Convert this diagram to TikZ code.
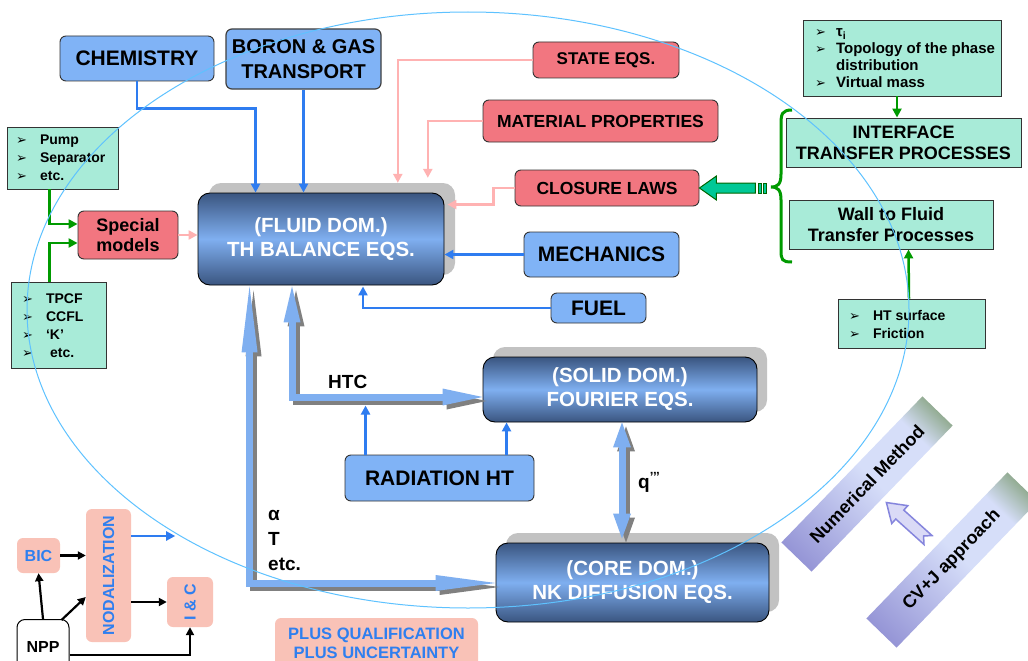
\documentclass[tikz,border=0pt]{standalone}
\usepackage{fontspec}
\setmainfont{Liberation Sans}
\newfontfamily\symfont{DejaVu Sans}
\usetikzlibrary{arrows.meta,calc}

% palette
\definecolor{boxblue}{HTML}{80B3F6}
\definecolor{lineblue}{HTML}{2E7CF0}
\definecolor{boxred}{HTML}{F27680}
\definecolor{linepink}{HTML}{FFB2B2}
\definecolor{mint}{HTML}{A8EBD8}
\definecolor{grn}{HTML}{009A00}
\definecolor{peach}{HTML}{F9C2B7}
\definecolor{txtblue}{HTML}{2F7FEF}
\definecolor{pipe}{HTML}{7FAFF0}
\definecolor{domdark}{HTML}{3A5580}
\definecolor{sky}{HTML}{5EC2FF}
\definecolor{shadowgray}{HTML}{C2C2C2}
\definecolor{arrowteal}{HTML}{00C896}
\definecolor{banA}{HTML}{9595D6}
\definecolor{banB}{HTML}{D6DEF9}
\definecolor{banC}{HTML}{93AC93}
\definecolor{lav}{HTML}{DADAF6}
\definecolor{lavdark}{HTML}{8585DD}

\pgfdeclarehorizontalshading{bannershade}{100bp}{color(0bp)=(banA); color(25bp)=(banA); color(52bp)=(banB); color(67bp)=(banB); color(75bp)=(banC); color(100bp)=(banC)}

% list bullet
\newcommand\lstbullet{{\symfont\fontsize{13}{13}\selectfont ➢}}

\tikzset{
  base/.style={inner sep=0pt, font=\bfseries, align=center},
  bluebox/.style={base, draw=black!80, line width=0.9pt, fill=boxblue, rounded corners=6pt},
  redbox/.style={base, draw=black!80, line width=0.9pt, fill=boxred, rounded corners=6pt},
  mintbox/.style={base, draw=black!80, line width=0.9pt, fill=mint},
  peachbox/.style={base, fill=peach, rounded corners=6pt, text=txtblue},
  dombox/.style={base, draw=black, line width=0.9pt, rounded corners=12pt,
    top color=domdark, bottom color=domdark, middle color=pipe, text=white},
  domshadow/.style={fill=shadowgray, rounded corners=12pt, inner sep=0pt},
  listtext/.style={inner sep=0pt, anchor=west, align=left},
  lbl/.style={inner sep=0pt, font=\bfseries\fontsize{19}{22}\selectfont},
  bl/.style={draw=lineblue, line width=2.5pt, -{Triangle[length=9pt,width=9pt]}},
  pk/.style={draw=linepink, line width=2.5pt, -{Triangle[length=9pt,width=9pt]}},
  gr/.style={draw=grn, line width=2.5pt, -{Triangle[length=9pt,width=9pt]}},
  bk/.style={draw=black, line width=2.2pt, -{Triangle[length=8pt,width=8pt]}},
  pipeline/.style={draw=pipe, line width=7pt},
  pipeshadow/.style={draw=black!50, line width=7pt},
}
\newcommand\dfont{\bfseries\fontsize{20.5}{24}\selectfont}

\begin{document}
\begin{tikzpicture}[x=1pt,y=-1pt]
\clip (0,0) rectangle (1028,661);
\fill[white] (0,0) rectangle (1028,661);

% ---------- upper inputs ----------
\node[bluebox, minimum width=154pt, minimum height=45pt, font=\bfseries\fontsize{21}{24}\selectfont] (chem) at (137,58.5) {CHEMISTRY};
\node[bluebox, draw=black!75, line width=1.2pt, minimum width=155pt, minimum height=60pt, font=\bfseries\fontsize{20}{25}\selectfont] (boron) at (303.5,59) {BORON \& GAS\\TRANSPORT};

\node[redbox, minimum width=146pt, minimum height=36pt, font=\bfseries\fontsize{17}{20}\selectfont] (state) at (606,60) {STATE EQS.};
\node[redbox, minimum width=235pt, minimum height=42pt, font=\bfseries\fontsize{17.5}{20}\selectfont] (mat) at (600.5,121) {MATERIAL PROPERTIES};
\node[redbox, minimum width=184pt, minimum height=36pt, font=\bfseries\fontsize{17.5}{20}\selectfont] (clos) at (607,188) {CLOSURE LAWS};
\node[bluebox, minimum width=155pt, minimum height=45pt, font=\bfseries\fontsize{21}{24}\selectfont] (mech) at (601.5,254.5) {MECHANICS};
\node[bluebox, minimum width=95pt, minimum height=30pt, font=\bfseries\fontsize{21}{24}\selectfont] (fuel) at (598.5,308) {FUEL};

% ---------- domain boxes ----------
\node[domshadow, minimum width=246pt, minimum height=92pt] (fsh) at (332,229) {};
\node[dombox, minimum width=246pt, minimum height=92pt, font=\dfont] (fluid) at (321,239) {(FLUID DOM.)\\TH BALANCE EQS.};
\node[domshadow, minimum width=274pt, minimum height=65pt] (ssh) at (630,379.5) {};
\node[dombox, minimum width=274pt, minimum height=65pt, font=\dfont] (solid) at (620,389.5) {(SOLID DOM.)\\FOURIER EQS.};
\node[domshadow, minimum width=273pt, minimum height=79pt] (csh) at (642.5,572.5) {};
\node[dombox, minimum width=273pt, minimum height=79pt, font=\dfont] (core) at (632.5,582.5) {(CORE DOM.)\\NK DIFFUSION EQS.};

\node[bluebox, minimum width=189pt, minimum height=46pt, font=\bfseries\fontsize{21}{24}\selectfont] (rad) at (439.5,478) {RADIATION HT};

% ---------- special models ----------
\node[redbox, minimum width=100pt, minimum height=48pt, font=\bfseries\fontsize{18}{20}\selectfont] (special) at (128,235) {Special\\models};
\node[mintbox, minimum width=111pt, minimum height=62pt] (pump) at (62.5,158) {};
\node[listtext, font=\bfseries\fontsize{14}{18}\selectfont] (pumptx) at (16,158)
  {\lstbullet\hspace{13pt}Pump\\\lstbullet\hspace{13pt}Separator\\\lstbullet\hspace{13pt}etc.};
\node[mintbox, minimum width=95pt, minimum height=86pt] (tpcf) at (58.5,325) {};
\node[listtext, font=\bfseries\fontsize{14}{18}\selectfont] (tpcftx) at (22,326)
  {\lstbullet\hspace{13pt}TPCF\\\lstbullet\hspace{13pt}CCFL\\\lstbullet\hspace{13pt}‘K’\\\lstbullet\hspace{17pt}etc.};

% ---------- transfer processes ----------
\node[mintbox, minimum width=198pt, minimum height=76pt] (topl) at (902,58) {};
\node[listtext, font=\bfseries\fontsize{15}{17}\selectfont] (topltx) at (815,58)
  {\lstbullet\hspace{10pt}τ\textsubscript{i}\\\lstbullet\hspace{10pt}Topology of the phase\\\hphantom{\lstbullet}\hspace{10pt}distribution\\\lstbullet\hspace{10pt}Virtual mass};
\node[mintbox, minimum width=235pt, minimum height=49pt, font=\bfseries\fontsize{18}{21}\selectfont] (iface) at (903.5,142.5) {INTERFACE\\TRANSFER PROCESSES};
\node[mintbox, minimum width=204pt, minimum height=49pt, font=\bfseries\fontsize{18}{21}\selectfont] (wall) at (891,224.5) {Wall to Fluid\\Transfer Processes};
\node[mintbox, minimum width=147pt, minimum height=49pt] (hts) at (911.5,323.5) {};
\node[listtext, font=\bfseries\fontsize{14}{18}\selectfont] (htstx) at (849,324)
  {\lstbullet\hspace{13pt}HT surface\\\lstbullet\hspace{13pt}Friction};

% ---------- plant side ----------
\node[peachbox, minimum width=43pt, minimum height=35pt, font=\bfseries\fontsize{16}{18}\selectfont] (bic) at (38.5,555.5) {BIC};
\node[peachbox, minimum width=45pt, minimum height=133pt] (nod) at (108.5,575.5) {};
\node[inner sep=0pt, rotate=90, text=txtblue, font=\bfseries\fontsize{16}{18}\selectfont] (nodtx) at (nod.center) {NODALIZATION};
\node[peachbox, minimum width=46pt, minimum height=50pt] (ic) at (190,602) {};
\node[inner sep=0pt, rotate=90, text=txtblue, font=\bfseries\fontsize{16}{18}\selectfont] (ictx) at (ic.center) {I \& C};
\node[base, draw=black, line width=1pt, fill=white, rounded corners=8pt, minimum width=52pt, minimum height=55pt, font=\bfseries\fontsize{16}{18}\selectfont] (npp) at (43,647) {NPP};
\node[peachbox, minimum width=203pt, minimum height=50pt, font=\bfseries\fontsize{16.5}{19}\selectfont] (plus) at (376.5,643) {PLUS QUALIFICATION\\PLUS UNCERTAINTY};

% ---------- thick coupling arrows ----------
\coordinate (htcA) at ($(fluid.south)+(-29,1)$);
\coordinate (htcB) at ($(solid.west)+(0,7.5)$);
\coordinate (alA) at ($(fluid.south west)+(52,1)$);
\coordinate (alB) at ($(core.west)+(0,0.5)$);
\coordinate (qA) at ($(solid.south)+(2,0)$);
\coordinate (qB) at ($(core.north)+(-10.5,-4)$);
\begin{scope}[transform canvas={shift={(4,4)}}]
  \draw[pipeshadow, {Triangle[length=36pt,width=17pt,line width=0pt]}-{Triangle[length=40pt,width=17pt,line width=0pt]}] (htcA) |- (htcB);
  \draw[pipeshadow, {Triangle[length=66pt,width=16pt,line width=0pt]}-{Triangle[length=60pt,width=16pt,line width=0pt]}] (alA) |- (alB);
  \draw[pipeshadow, {Triangle[length=25pt,width=18pt,line width=0pt]}-{Triangle[length=25pt,width=18pt,line width=0pt]}] (qA) -- (qB);
\end{scope}
\draw[pipeline, {Triangle[length=36pt,width=17pt,line width=0pt]}-{Triangle[length=40pt,width=17pt,line width=0pt]}] (htcA) |- (htcB);
\draw[pipeline, {Triangle[length=66pt,width=16pt,line width=0pt]}-{Triangle[length=60pt,width=16pt,line width=0pt]}] (alA) |- (alB);
\draw[pipeline, {Triangle[length=25pt,width=18pt,line width=0pt]}-{Triangle[length=25pt,width=18pt,line width=0pt]}] (qA) -- (qB);

\node[lbl, anchor=base west] (htc) at (328,388) {HTC};
\node[lbl, anchor=base west] (lalpha) at (268,520) {α};
\node[lbl, anchor=base west] (ltemp) at (268,545) {T};
\node[lbl, anchor=base west] (letc) at (268,570) {etc.};
\node[lbl, anchor=base west] (lq) at (638,488) {q\textsuperscript{’’’}};

% ---------- thin connectors ----------
\draw[bl] (chem.south) -- ++(0,27) -| ($(fluid.north west)+(58,0)$);
\draw[bl] (boron.south) -- (boron.south |- fluid.north);
\draw[pk] (state.west) -| ($(fsh.north west)+(189,0)$);
\draw[pk] (mat.west) -| ($(fsh.north west)+(219,-5)$);
\draw[pk] (clos.west) -- ++(-21,0) |- ($(fluid.north east)+(3,12)$);
\draw[bl] (mech.west) -- (mech.west -| fluid.east);
\draw[bl] (fuel.west) -| ($(fluid.south)+(42,1)$);
\draw[bl] ($(rad.north west)+(21,0)$) -- ++(0,-49);
\draw[bl] ($(rad.north west)+(162,0)$) -- (solid.south -| {$(rad.north west)+(162,0)$});
\draw[pk] (special.east) -- (special.east -| fluid.west);
\draw[gr] ($(pump.south west)+(43,0)$) |- ($(special.west)+(0,-11)$);
\draw[gr] ($(tpcf.north west)+(39,0)$) |- ($(special.west)+(0,8)$);
\draw[gr] ($(topl.south)+(-5,0)$) -- ($(iface.north)+(-6.5,0)$);
\draw[gr] ($(hts.north)+(-2.5,0)$) -- ($(wall.south)+(17.5,0)$);

\draw[bk] (bic.east) -- (bic.east -| nod.west);
\draw[bk] (npp.north) -- (bic.south);
\draw[bk] ($(npp.north east)+(-8,1)$) -- ($(nod.west)+(0,21.5)$);
\draw[bk] (ic.west -| nod.east) -- (ic.west);
\draw[bk] ($(npp.east)+(0,8)$) -| (ic.south);
\draw[bl] ($(nod.east)+(0,-39.5)$) -- ++(44,0);

% ---------- block arrow into the closure laws and brace ----------
\draw[fill=arrowteal, draw=black!60!green, line width=1pt] (clos.east) -- ++(17,-12) -- ++(0,7) -- ++(39,0) -- ++(0,10) -- ++(-39,0) -- ++(0,7) -- cycle;
\draw[fill=arrowteal, draw=black!60!green, line width=0.8pt] ($(clos.east)+(58.5,-5)$) rectangle ++(3.5,10);
\draw[fill=arrowteal, draw=black!60!green, line width=0.8pt] ($(clos.east)+(64,-5)$) rectangle ++(3,10);
\draw[grn, line width=3pt] (792,110) .. controls (782,110) and (781,114) .. (781,124) -- (781,174)
  .. controls (781,184) and (778,187) .. (771,187) .. controls (778,187) and (781,190) .. (781,200)
  -- (781,250) .. controls (781,260) and (782,262) .. (792,262);

% ---------- method banners ----------
\begin{scope}[transform canvas={shift={(867,484)}, rotate=46}]
  \shade[shading=bannershade] (-101.5,-21) rectangle (101.5,21);
  \node[inner sep=0pt, font=\bfseries\fontsize{18}{20}\selectfont] (nmtx) at (0,0) {Numerical Method};
\end{scope}
\begin{scope}[transform canvas={shift={(952,560)}, rotate=46}]
  \shade[shading=bannershade] (-101.5,-21) rectangle (101.5,21);
  \node[inner sep=0pt, font=\bfseries\fontsize{18}{20}\selectfont] (cvtx) at (0,0) {CV+J approach};
\end{scope}
\begin{scope}[transform canvas={shift={(928,540)}, rotate=138}]
  \draw[fill=lav, draw=lavdark, line width=1.5pt, line join=miter]
    (0,-6) -- (38,-6) -- (38,-12) -- (56,0) -- (38,12) -- (38,6) -- (0,6) -- (6,0) -- cycle;
\end{scope}

% ---------- enclosing ellipse ----------
\draw[sky, line width=1pt] (468,310) ellipse [x radius=441pt, y radius=298pt];
\end{tikzpicture}
\end{document}
